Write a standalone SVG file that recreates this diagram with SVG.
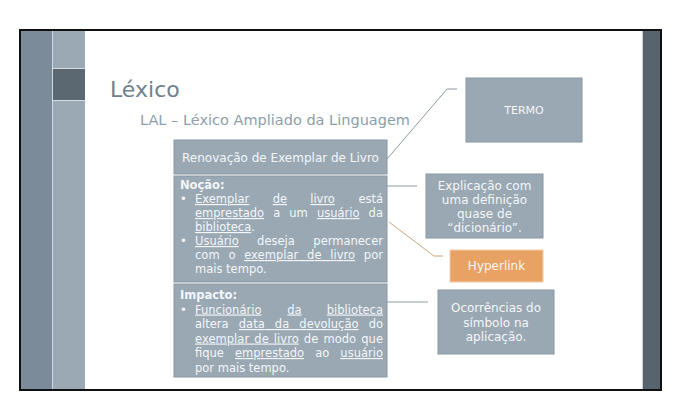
<svg xmlns="http://www.w3.org/2000/svg" width="678" height="410" viewBox="0 0 678 410">
<style>
.box{fill:#9aa8b4;stroke:#8797a3;stroke-width:1}
.wt{fill:#f4f6f8;font-family:"DejaVu Sans",sans-serif}
.hd{font-size:12px}
.bd{font-size:11.5px}
.bold{font-weight:bold}
.ctr{text-anchor:middle}
.end{text-anchor:end}
.u{text-decoration:underline}
.cn{fill:none;stroke:#8e9aa4;stroke-width:1}
.co{fill:none;stroke:#c9a57f;stroke-width:1}
</style>
<rect width="678" height="410" fill="#ffffff"/>
<g id="slide-frame">
<rect x="20" y="30" width="641" height="360" fill="#ffffff"/>
<rect x="20" y="30" width="32" height="360" fill="#7b8b99"/>
<rect x="53" y="30" width="32" height="360" fill="#9ba9b5"/>
<rect x="53" y="69" width="32" height="31" fill="#5b6872"/>
<line x1="53" y1="68.5" x2="85" y2="68.5" stroke="#d4dbe0" stroke-width="1"/>
<line x1="53" y1="100.5" x2="85" y2="100.5" stroke="#d4dbe0" stroke-width="1"/>
<line x1="52.5" y1="30" x2="52.5" y2="390" stroke="#d4dbe0" stroke-width="1"/>
<rect x="643" y="30" width="18" height="360" fill="#57646e"/>
<line x1="642.5" y1="30" x2="642.5" y2="390" stroke="#c8d0d6" stroke-width="1"/>
<rect x="20" y="30" width="641" height="360" fill="none" stroke="#111111" stroke-width="2"/>
</g>
<g id="title">
<text x="110" y="97" font-family="DejaVu Sans, sans-serif" font-size="22" fill="#6e7f8d">Léxico</text>
<text x="140" y="125" font-family="DejaVu Sans, sans-serif" font-size="14.5" fill="#8d9eab" textLength="270" lengthAdjust="spacingAndGlyphs">LAL – Léxico Ampliado da Linguagem</text>
</g>
<g id="connectors">
<polyline class="cn" points="387,159 447,89 457,89"/>
<line class="cn" x1="387" y1="186" x2="417" y2="186"/>
<polyline class="co" points="389,222 434,256 443,256"/>
<line class="cn" x1="387" y1="302" x2="428" y2="302"/>
</g>
<g id="node-termo">
<rect class="box" x="466" y="78" width="116" height="64"/>
<text class="wt ctr" x="524" y="114" font-size="11">TERMO</text>
</g>
<g id="node-renovacao">
<rect class="box" x="174" y="140" width="213" height="34"/>
<text class="wt hd ctr" x="280.5" y="161.5">Renovação de Exemplar de Livro</text>
</g>
<g id="node-nocao">
<rect class="box" x="174" y="176" width="213" height="106"/>
<g class="wt bd">
<text class="bold" x="180" y="189">Noção:</text>
<text x="180" y="203">•</text>
<text x="195" y="203" class="u">Exemplar</text>
<text x="272.7" y="203" class="u">de</text>
<text x="310.2" y="203" class="u">livro</text>
<text x="383" y="203" class="end">está</text>
<text x="195" y="217" word-spacing="5.4" textLength="188" lengthAdjust="spacing"><tspan class="u">emprestado</tspan> a um <tspan class="u">usuário</tspan> da</text>
<text x="195" y="231"><tspan class="u">biblioteca</tspan>.</text>
<text x="180" y="245">•</text>
<text x="195" y="245" class="u">Usuário</text>
<text x="257.1" y="245">deseja</text>
<text x="383" y="245" class="end">permanecer</text>
<text x="195" y="259" word-spacing="5" textLength="188" lengthAdjust="spacing">com o <tspan class="u">exemplar de livro</tspan> por</text>
<text x="195" y="273">mais tempo.</text>
</g>
</g>
<g id="node-impacto">
<rect class="box" x="174" y="284" width="213" height="93"/>
<g class="wt bd">
<text class="bold" x="180" y="299">Impacto:</text>
<text x="180" y="313.5">•</text>
<text x="195" y="313.5" class="u">Funcionário</text>
<text x="287.3" y="313.5" class="u">da</text>
<text x="383" y="313.5" class="end u">biblioteca</text>
<text x="195" y="328" word-spacing="6.5" textLength="188" lengthAdjust="spacing">altera <tspan class="u">data da devolução</tspan> do</text>
<text x="195" y="342.5" word-spacing="1.4" textLength="188" lengthAdjust="spacing"><tspan class="u">exemplar de livro</tspan> de modo que</text>
<text x="195" y="357" word-spacing="7.4" textLength="188" lengthAdjust="spacing">fique <tspan class="u">emprestado</tspan> ao <tspan class="u">usuário</tspan></text>
<text x="195" y="371.5">por mais tempo.</text>
</g>
</g>
<g id="node-explicacao">
<rect class="box" x="426" y="174" width="117" height="64"/>
<g class="wt hd ctr">
<text x="484.5" y="190">Explicação com</text>
<text x="484.5" y="204">uma definição</text>
<text x="484.5" y="218">quase de</text>
<text x="484.5" y="232">“dicionário”.</text>
</g>
</g>
<g id="node-hyperlink">
<rect x="450" y="250" width="93" height="32" fill="#e8a263" stroke="#f3cba6" stroke-width="1"/>
<text class="wt ctr" x="496.5" y="270" font-size="12">Hyperlink</text>
</g>
<g id="node-ocorrencias">
<rect class="box" x="438" y="290" width="116" height="64"/>
<g class="wt hd ctr">
<text x="496" y="312">Ocorrências do</text>
<text x="496" y="326.5">símbolo na</text>
<text x="496" y="341">aplicação.</text>
</g>
</g>
</svg>
